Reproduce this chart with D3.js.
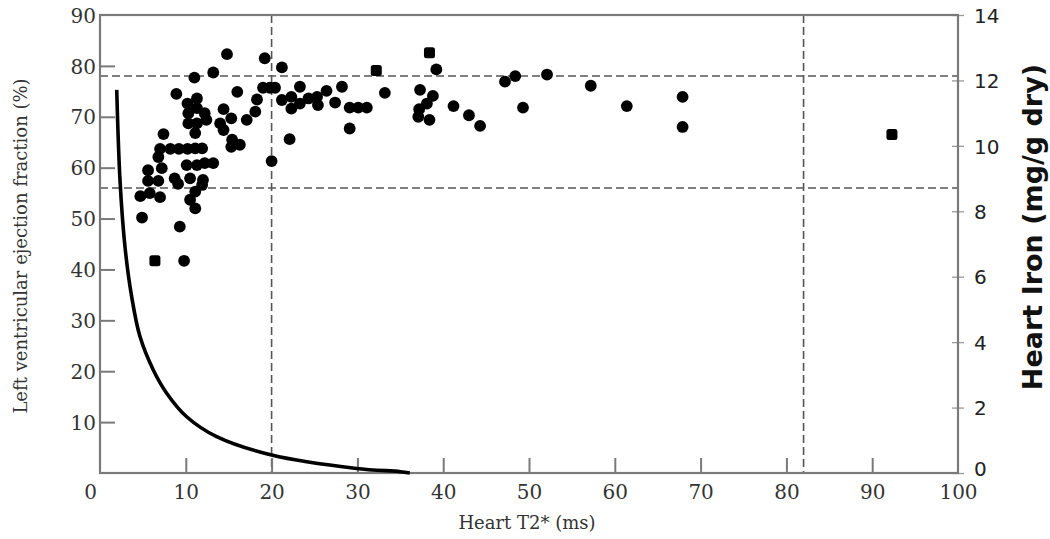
<!DOCTYPE html>
<html>
<head>
<meta charset="utf-8">
<script src="https://cdn.jsdelivr.net/npm/d3@7/dist/d3.min.js"></script>
<style>
  html, body { margin: 0; padding: 0; background: #fff; }
  svg { display: block; }
</style>
</head>
<body>
<svg id="chart" width="1050" height="539"></svg>
<script>
// ---- Data ----
// Scatter: heart T2* (ms) vs LVEF (%)
const t2Circle = [
  11.0, 13.2, 14.8, 19.2, 21.2, 8.9, 10.2, 11.3, 10.3, 11.3, 12.2, 12.4, 10.3, 11.3, 11.1, 7.4,
  7.0, 8.2, 9.2, 10.2, 11.1, 11.9,
  6.8, 7.2, 5.6, 10.1, 11.3, 12.2, 13.2,
  5.6, 6.8, 8.7, 9.1, 10.5, 12.0, 11.9,
  4.7, 5.8, 7.0, 11.1, 10.5, 11.1, 4.9, 9.3, 9.8,
  14.4, 14.0, 15.3, 14.4, 15.4, 16.3, 15.3, 16.0, 17.1, 18.1, 18.3,
  19.0, 19.8, 20.4, 20.0, 21.2, 22.3, 22.3, 23.3, 23.3, 24.3, 25.3, 25.4, 26.4, 27.4, 28.2,
  29.1, 30.1, 31.1, 29.1, 22.1, 33.2,
  37.3, 37.2, 37.1, 38.1, 38.8, 38.4, 39.2, 41.2, 43.0, 44.3,
  47.2, 48.4, 49.3, 52.1, 57.2, 61.4, 67.9, 67.9
];
const efCircle = [
  77.7, 78.7, 82.3, 81.5, 79.7, 74.5, 72.6, 73.6, 70.7, 71.7, 70.7, 69.4, 68.7, 68.7, 66.8, 66.6,
  63.7, 63.7, 63.7, 63.7, 63.8, 63.8,
  62.1, 59.9, 59.5, 60.5, 60.5, 60.9, 60.9,
  57.4, 57.4, 57.9, 56.8, 57.9, 57.6, 56.6,
  54.4, 55.0, 54.2, 55.3, 53.7, 52.0, 50.2, 48.4, 41.7,
  71.5, 68.7, 69.7, 67.4, 65.5, 64.5, 64.1, 74.9, 69.4, 71.0, 73.4,
  75.7, 75.7, 75.7, 61.3, 73.3, 73.9, 71.6, 75.9, 72.6, 73.6, 73.9, 72.3, 75.1, 72.8, 75.9,
  71.8, 71.8, 71.8, 67.7, 65.6, 74.7,
  75.3, 71.5, 70.0, 72.6, 74.1, 69.4, 79.3, 72.1, 70.3, 68.2,
  76.9, 78.0, 71.8, 78.3, 76.1, 72.1, 73.9, 68.0
];
const t2Square = [6.4, 32.2, 38.4, 92.3];
const efSquare = [41.7, 79.1, 82.6, 66.5];

// Curve: heart iron (mg/g dry) vs T2* (ms), right axis
const curveT2 = [1.95, 2.33, 2.91, 3.69, 4.66, 6.21, 7.77, 10.1, 13.6, 20.0, 29.9, 35.0, 36.1];
const curveIron = [11.71, 8.96, 6.92, 5.39, 4.17, 3.15, 2.44, 1.72, 1.11, 0.55, 0.14, 0.04, 0];

// Reference lines
const efRefLines = [78, 56];
const t2RefLines = [20, 82];

// Ticks
const xTicks = [0, 10, 20, 30, 40, 50, 60, 70, 80, 90, 100];
const yTicks = [10, 20, 30, 40, 50, 60, 70, 80, 90];
const y2Ticks = [0, 2, 4, 6, 8, 10, 12, 14];

const xTitle = "Heart T2* (ms)";
const yTitle = "Left ventricular ejection fraction (%)";
const y2Title = "Heart Iron (mg/g dry)";

// ---- Drawing ----
const svg = d3.select("#chart");
const L = 100, R = 958, T = 15, B = 473;
const x = d3.scaleLinear().domain([0, 100]).range([L, R]);
const y = d3.scaleLinear().domain([0, 90]).range([B, T]);
const y2 = d3.scaleLinear().domain([0, 14]).range([B, T]);

const axisColor = "#7a7a7a";
const serif = "'DejaVu Serif', 'Liberation Serif', serif";
const sans = "'DejaVu Sans', Verdana, sans-serif";

// Reference dashed lines
svg.append("g").selectAll("line").data(efRefLines).join("line")
  .attr("x1", L).attr("x2", R)
  .attr("y1", d => y(d)).attr("y2", d => y(d))
  .attr("stroke", "#555").attr("stroke-width", 1.6).attr("stroke-dasharray", "8,4");
svg.append("g").selectAll("line").data(t2RefLines).join("line")
  .attr("x1", d => x(d)).attr("x2", d => x(d))
  .attr("y1", T).attr("y2", B)
  .attr("stroke", "#555").attr("stroke-width", 1.6).attr("stroke-dasharray", "8,4");

// Left axis (ticks inward)
const yAxis = d3.axisLeft(y).tickValues(yTicks).tickSize(0).tickPadding(0)
  .tickFormat(d3.format("d"));
const gy = svg.append("g").attr("transform", `translate(${L},0)`).call(yAxis);
gy.select(".domain").remove();
gy.selectAll(".tick line").remove();
gy.selectAll(".tick").filter(d => d !== 90).append("line")
  .attr("x1", 0).attr("x2", 15).attr("stroke", axisColor).attr("stroke-width", 2);
gy.selectAll(".tick text")
  .attr("x", -4).attr("dy", "0.36em")
  .attr("font-family", serif).attr("font-size", 20).attr("fill", "#333");

// Bottom axis (ticks inward)
const xAxis = d3.axisBottom(x).tickValues(xTicks).tickSize(0).tickPadding(0)
  .tickFormat(d3.format("d"));
const gx = svg.append("g").attr("transform", `translate(0,${B})`).call(xAxis);
gx.select(".domain").remove();
gx.selectAll(".tick line").remove();
gx.selectAll(".tick").filter(d => d !== 0 && d !== 100).append("line")
  .attr("y1", 0).attr("y2", -15).attr("stroke", axisColor).attr("stroke-width", 2);
gx.selectAll(".tick text")
  .attr("y", 12).attr("dy", "0.71em")
  .attr("font-family", serif).attr("font-size", 20).attr("fill", "#333");
gx.selectAll(".tick").filter(d => d === 0).select("text").attr("x", -10);

// Right axis
const y2Axis = d3.axisRight(y2).tickValues(y2Ticks).tickSize(0).tickPadding(0)
  .tickFormat(d3.format("d"));
const gy2 = svg.append("g").attr("transform", `translate(${R},0)`).call(y2Axis);
gy2.select(".domain").remove();
gy2.selectAll(".tick line").remove();
gy2.selectAll(".tick").append("line")
  .attr("x1", -6).attr("x2", 6).attr("stroke", "#999").attr("stroke-width", 1.3);
gy2.selectAll(".tick text")
  .attr("x", 16).attr("dy", "0.36em")
  .attr("font-family", sans).attr("font-size", 20).attr("fill", "#222");
gy2.selectAll(".tick").filter(d => d === 0).select("text").attr("dy", "0.1em");

// Frame
svg.append("rect")
  .attr("x", L).attr("y", T).attr("width", R - L).attr("height", B - T)
  .attr("fill", "none").attr("stroke", axisColor).attr("stroke-width", 2.2);

// Curve
const curveData = curveT2.map((t, i) => ({ t, v: curveIron[i] }));
svg.append("path").datum(curveData)
  .attr("d", d3.line().x(d => x(d.t)).y(d => y2(d.v)).curve(d3.curveCatmullRom.alpha(0.5)))
  .attr("fill", "none").attr("stroke", "#000").attr("stroke-width", 3.6);

// Scatter points
const circles = t2Circle.map((t, i) => ({ t, ef: efCircle[i] }));
svg.append("g").selectAll("circle").data(circles).join("circle")
  .attr("cx", d => x(d.t)).attr("cy", d => y(d.ef)).attr("r", 5.9)
  .attr("fill", "#000");
const squares = t2Square.map((t, i) => ({ t, ef: efSquare[i] }));
svg.append("g").selectAll("rect").data(squares).join("rect")
  .attr("x", d => x(d.t) - 5.5).attr("y", d => y(d.ef) - 5.5)
  .attr("width", 11).attr("height", 11).attr("rx", 2.5)
  .attr("fill", "#000");

// Titles
svg.append("text").attr("x", (L + R) / 2 - 2).attr("y", 529)
  .attr("text-anchor", "middle").attr("font-family", serif).attr("font-size", 18)
  .attr("fill", "#333").text(xTitle);
svg.append("text").attr("transform", `translate(27,${246}) rotate(-90)`)
  .attr("text-anchor", "middle").attr("font-family", serif).attr("font-size", 18)
  .attr("fill", "#333").text(yTitle);
svg.append("text").attr("transform", `translate(1042,${227}) rotate(-90)`)
  .attr("text-anchor", "middle").attr("font-family", sans).attr("font-size", 27)
  .attr("font-weight", "bold").attr("fill", "#111").text(y2Title);
</script>
</body>
</html>
